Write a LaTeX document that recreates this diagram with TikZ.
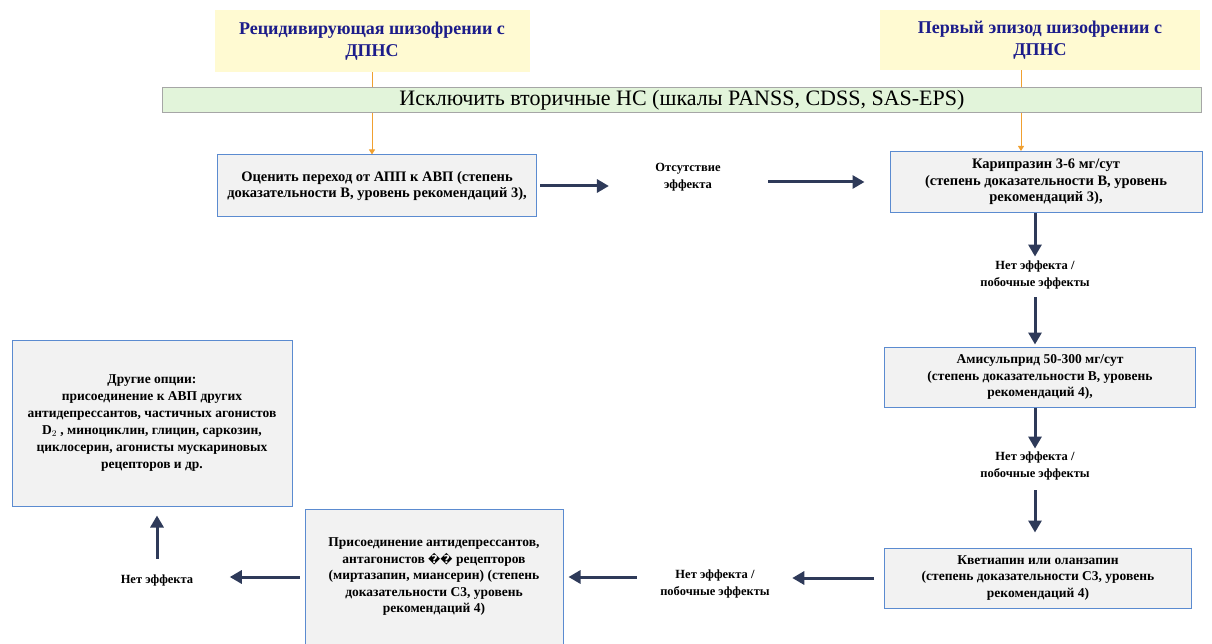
\documentclass[tikz,border=0pt]{standalone}
\usepackage{fontspec}
\setmainfont{Liberation Serif}
\newfontfamily\symfont{DejaVu Sans}
\usetikzlibrary{arrows.meta,backgrounds}
\definecolor{navy}{HTML}{2E3A59}
\definecolor{boxblue}{HTML}{5B8BD0}
\definecolor{boxgray}{HTML}{F2F2F2}
\definecolor{titleyellow}{HTML}{FFFAD2}
\definecolor{titleblue}{HTML}{1C1C8A}
\definecolor{bargreen}{HTML}{E2F4DA}
\definecolor{linkorange}{HTML}{F0A030}
\tikzset{
  titlebox/.style={fill=titleyellow, align=center, text=titleblue, font=\fontsize{18}{22}\selectfont\bfseries},
  stepbox/.style={draw=boxblue, line width=1pt, fill=boxgray, align=center, font=\fontsize{13.5}{16.5}\selectfont\bfseries},
  note/.style={align=center, font=\fontsize{12.5}{16.5}\selectfont\bfseries},
  arr/.style={navy, line width=3pt, -{Triangle[width=13pt,length=12pt]}},
  orarr/.style={linkorange, line width=1pt, -{Triangle[width=6pt,length=5pt]}}
}
\begin{document}
\begin{tikzpicture}[x=1pt,y=-1pt]
\useasboundingbox (0,0) rectangle (1212,644);
\node [titlebox, minimum width=315, minimum height=62] (recid) at (372,41) {Рецидивирующая шизофрении с\\ДПНС};
\node [titlebox, minimum width=320, minimum height=60] (first) at (1040,40) {Первый эпизод шизофрении с\\ДПНС};
\node [draw=gray!70, line width=1pt, fill=bargreen, minimum width=1039, minimum height=25, inner sep=0pt, font=\fontsize{22}{22}\selectfont] (excl) at (682,100) {Исключить вторичные НС (шкалы PANSS, CDSS, SAS-EPS)};
\node [stepbox, minimum width=319, minimum height=62, font=\fontsize{14.5}{16.5}\selectfont\bfseries] (ocen) at (377,186) {Оценить переход от АПП к АВП (степень\\доказательности В, уровень рекомендаций 3),};
\node [note] (otsut) at (688,177) {Отсутствие\\эффекта};
\node [stepbox, minimum width=312, minimum height=61, font=\fontsize{14.5}{16.5}\selectfont\bfseries] (kari) at (1046,182) {Карипразин 3-6 мг/сут\\(степень доказательности В, уровень\\рекомендаций 3),};
\node [note] (net1) at (1035,275) {Нет эффекта /\\побочные эффекты};
\node [stepbox, minimum width=311, minimum height=60] (amis) at (1040,377) {Амисульприд 50-300 мг/сут\\(степень доказательности В, уровень\\рекомендаций 4),};
\node [note] (net2) at (1035,466) {Нет эффекта /\\побочные эффекты};
\node [stepbox, minimum width=307, minimum height=60] (kvet) at (1038,578) {Кветиапин или оланзапин\\(степень доказательности С3, уровень\\рекомендаций 4)};
\node [note] (net3) at (715,584) {Нет эффекта /\\побочные эффекты};
\node [stepbox, minimum width=258, minimum height=136] (pris) at (434,577) {Присоединение антидепрессантов,\\антагонистов {\symfont\fontsize{11}{11}\selectfont ��} рецепторов\\(миртазапин, миансерин) (степень\\доказательности С3, уровень\\рекомендаций 4)};
\node [note] (net4) at (157,580) {Нет эффекта};
\node [stepbox, minimum width=280, minimum height=166, font=\fontsize{13.5}{17}\selectfont\bfseries] (other) at (152,423) {Другие опции:\\присоединение к АВП других\\антидепрессантов, частичных агонистов\\D$_2$ , миноциклин, глицин, саркозин,\\циклосерин, агонисты мускариновых\\рецепторов и др.};
\begin{scope}[on background layer]
\draw [orarr] (recid.south) -- (recid.south |- ocen.north);
\draw [orarr] ([xshift=-19pt]first.south) -- ([xshift=-19pt]first.south |- kari.north);
\end{scope}
\draw [arr, shorten <=3pt, shorten >=43pt] (ocen.east) -- (ocen.east -| otsut.west);
\draw [arr, shorten <=44pt, shorten >=25pt] (kari.west -| otsut.east) -- (kari.west);
\draw [arr, shorten >=1pt] (kari.south -| net1) -- (net1.north);
\draw [arr, shorten <=5pt, shorten >=2pt] (net1.south) -- (net1 |- amis.north);
\draw [arr, shorten >=0pt] (amis.south -| net2) -- (net2.north);
\draw [arr, shorten <=7pt, shorten >=15pt] (net2.south) -- (net2 |- kvet.north);
\draw [arr, shorten <=10pt, shorten >=19pt] (kvet.west) -- (kvet.west -| net3.east);
\draw [arr, shorten <=20pt, shorten >=5pt] (net3.west |- pris.east) -- (pris.east);
\draw [arr, shorten <=5pt, shorten >=33pt] (pris.west) -- (pris.west -| net4.east);
\draw [arr, shorten <=12pt, shorten >=9pt] (net4.north) -- (net4 |- other.south);
\end{tikzpicture}
\end{document}
